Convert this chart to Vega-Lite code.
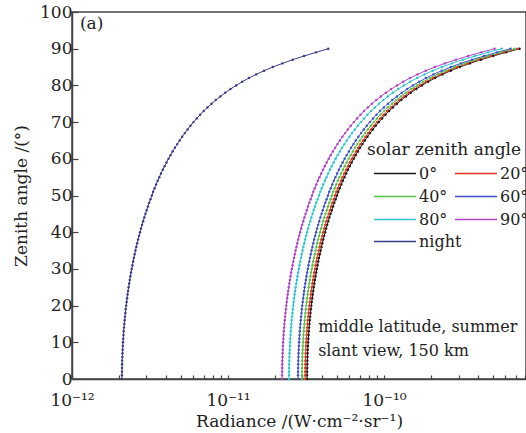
{
  "$schema": "https://vega.github.io/schema/vega-lite/v6.json",
  "width": 454,
  "height": 367,
  "autosize": {"type": "none"},
  "padding": {"left": 72, "top": 12, "right": 0, "bottom": 54},
  "background": "white",
  "config": {
    "font": "DejaVu Serif",
    "view": {"stroke": "#444", "strokeWidth": 1.5},
    "axis": {
      "grid": false,
      "domainColor": "#444",
      "domainWidth": 1.5,
      "tickColor": "#444",
      "tickWidth": 1.2,
      "labelFont": "DejaVu Serif",
      "titleFont": "DejaVu Serif",
      "labelFontSize": 17,
      "titleFontSize": 17,
      "titleFontWeight": "normal",
      "labelColor": "#222",
      "titleColor": "#222",
      "labelOverlap": false,
      "labelFlush": false
    },
    "axisX": {"tickSize": -4, "labelPadding": 17, "titlePadding": 5},
    "axisY": {"tickSize": -6, "labelPadding": 6, "titlePadding": 9},
    "legend": {
      "labelFont": "DejaVu Serif",
      "titleFont": "DejaVu Serif",
      "labelFontSize": 16,
      "titleFontSize": 17,
      "titleFontWeight": "normal",
      "labelColor": "#222",
      "titleColor": "#222",
      "symbolType": "stroke",
      "symbolSize": 1764,
      "symbolStrokeWidth": 1.5,
      "symbolOffset": 6,
      "labelOffset": 2,
      "clipHeight": 23,
      "rowPadding": 0,
      "columnPadding": 0,
      "titlePadding": 3
    }
  },
  "resolve": {"scale": {"color": "independent"}, "legend": {"color": "independent"}},
  "data": {
    "values": [
      {"z":0,"0°":3.210e-11,"20°":3.120e-11,"40°":2.980e-11,"60°":2.810e-11,"80°":2.460e-11,"90°":2.220e-11,"night":2.090e-12},
      {"z":1,"0°":3.210e-11,"20°":3.120e-11,"40°":2.980e-11,"60°":2.810e-11,"80°":2.460e-11,"90°":2.220e-11,"night":2.090e-12},
      {"z":2,"0°":3.212e-11,"20°":3.122e-11,"40°":2.982e-11,"60°":2.812e-11,"80°":2.462e-11,"90°":2.221e-11,"night":2.091e-12},
      {"z":3,"0°":3.214e-11,"20°":3.124e-11,"40°":2.984e-11,"60°":2.814e-11,"80°":2.463e-11,"90°":2.223e-11,"night":2.093e-12},
      {"z":4,"0°":3.218e-11,"20°":3.128e-11,"40°":2.987e-11,"60°":2.817e-11,"80°":2.466e-11,"90°":2.225e-11,"night":2.095e-12},
      {"z":5,"0°":3.222e-11,"20°":3.132e-11,"40°":2.991e-11,"60°":2.821e-11,"80°":2.469e-11,"90°":2.228e-11,"night":2.098e-12},
      {"z":6,"0°":3.228e-11,"20°":3.137e-11,"40°":2.996e-11,"60°":2.825e-11,"80°":2.474e-11,"90°":2.232e-11,"night":2.102e-12},
      {"z":7,"0°":3.234e-11,"20°":3.143e-11,"40°":3.002e-11,"60°":2.831e-11,"80°":2.478e-11,"90°":2.237e-11,"night":2.106e-12},
      {"z":8,"0°":3.242e-11,"20°":3.151e-11,"40°":3.009e-11,"60°":2.838e-11,"80°":2.484e-11,"90°":2.242e-11,"night":2.111e-12},
      {"z":9,"0°":3.250e-11,"20°":3.159e-11,"40°":3.017e-11,"60°":2.845e-11,"80°":2.491e-11,"90°":2.248e-11,"night":2.116e-12},
      {"z":10,"0°":3.260e-11,"20°":3.168e-11,"40°":3.026e-11,"60°":2.853e-11,"80°":2.498e-11,"90°":2.254e-11,"night":2.122e-12},
      {"z":11,"0°":3.270e-11,"20°":3.178e-11,"40°":3.036e-11,"60°":2.863e-11,"80°":2.506e-11,"90°":2.262e-11,"night":2.129e-12},
      {"z":12,"0°":3.282e-11,"20°":3.190e-11,"40°":3.047e-11,"60°":2.873e-11,"80°":2.515e-11,"90°":2.270e-11,"night":2.137e-12},
      {"z":13,"0°":3.294e-11,"20°":3.202e-11,"40°":3.058e-11,"60°":2.884e-11,"80°":2.525e-11,"90°":2.278e-11,"night":2.145e-12},
      {"z":14,"0°":3.308e-11,"20°":3.215e-11,"40°":3.071e-11,"60°":2.896e-11,"80°":2.535e-11,"90°":2.288e-11,"night":2.154e-12},
      {"z":15,"0°":3.323e-11,"20°":3.230e-11,"40°":3.085e-11,"60°":2.909e-11,"80°":2.547e-11,"90°":2.298e-11,"night":2.164e-12},
      {"z":16,"0°":3.339e-11,"20°":3.246e-11,"40°":3.100e-11,"60°":2.923e-11,"80°":2.559e-11,"90°":2.309e-11,"night":2.174e-12},
      {"z":17,"0°":3.357e-11,"20°":3.263e-11,"40°":3.116e-11,"60°":2.938e-11,"80°":2.572e-11,"90°":2.321e-11,"night":2.186e-12},
      {"z":18,"0°":3.375e-11,"20°":3.281e-11,"40°":3.133e-11,"60°":2.955e-11,"80°":2.587e-11,"90°":2.334e-11,"night":2.198e-12},
      {"z":19,"0°":3.395e-11,"20°":3.300e-11,"40°":3.152e-11,"60°":2.972e-11,"80°":2.602e-11,"90°":2.348e-11,"night":2.210e-12},
      {"z":20,"0°":3.416e-11,"20°":3.320e-11,"40°":3.171e-11,"60°":2.990e-11,"80°":2.618e-11,"90°":2.362e-11,"night":2.224e-12},
      {"z":21,"0°":3.438e-11,"20°":3.342e-11,"40°":3.192e-11,"60°":3.010e-11,"80°":2.635e-11,"90°":2.378e-11,"night":2.239e-12},
      {"z":22,"0°":3.462e-11,"20°":3.365e-11,"40°":3.214e-11,"60°":3.031e-11,"80°":2.653e-11,"90°":2.394e-11,"night":2.254e-12},
      {"z":23,"0°":3.487e-11,"20°":3.389e-11,"40°":3.237e-11,"60°":3.053e-11,"80°":2.672e-11,"90°":2.412e-11,"night":2.270e-12},
      {"z":24,"0°":3.514e-11,"20°":3.415e-11,"40°":3.262e-11,"60°":3.076e-11,"80°":2.693e-11,"90°":2.430e-11,"night":2.288e-12},
      {"z":25,"0°":3.542e-11,"20°":3.443e-11,"40°":3.288e-11,"60°":3.100e-11,"80°":2.714e-11,"90°":2.450e-11,"night":2.306e-12},
      {"z":26,"0°":3.571e-11,"20°":3.471e-11,"40°":3.316e-11,"60°":3.126e-11,"80°":2.737e-11,"90°":2.470e-11,"night":2.325e-12},
      {"z":27,"0°":3.603e-11,"20°":3.502e-11,"40°":3.345e-11,"60°":3.154e-11,"80°":2.761e-11,"90°":2.492e-11,"night":2.346e-12},
      {"z":28,"0°":3.636e-11,"20°":3.534e-11,"40°":3.375e-11,"60°":3.183e-11,"80°":2.786e-11,"90°":2.514e-11,"night":2.367e-12},
      {"z":29,"0°":3.670e-11,"20°":3.567e-11,"40°":3.407e-11,"60°":3.213e-11,"80°":2.813e-11,"90°":2.538e-11,"night":2.390e-12},
      {"z":30,"0°":3.707e-11,"20°":3.603e-11,"40°":3.441e-11,"60°":3.245e-11,"80°":2.841e-11,"90°":2.563e-11,"night":2.413e-12},
      {"z":31,"0°":3.745e-11,"20°":3.640e-11,"40°":3.477e-11,"60°":3.278e-11,"80°":2.870e-11,"90°":2.590e-11,"night":2.438e-12},
      {"z":32,"0°":3.785e-11,"20°":3.679e-11,"40°":3.514e-11,"60°":3.314e-11,"80°":2.901e-11,"90°":2.618e-11,"night":2.464e-12},
      {"z":33,"0°":3.827e-11,"20°":3.720e-11,"40°":3.553e-11,"60°":3.351e-11,"80°":2.933e-11,"90°":2.647e-11,"night":2.492e-12},
      {"z":34,"0°":3.872e-11,"20°":3.763e-11,"40°":3.595e-11,"60°":3.389e-11,"80°":2.967e-11,"90°":2.678e-11,"night":2.521e-12},
      {"z":35,"0°":3.919e-11,"20°":3.809e-11,"40°":3.638e-11,"60°":3.430e-11,"80°":3.003e-11,"90°":2.710e-11,"night":2.551e-12},
      {"z":36,"0°":3.968e-11,"20°":3.857e-11,"40°":3.683e-11,"60°":3.473e-11,"80°":3.041e-11,"90°":2.744e-11,"night":2.583e-12},
      {"z":37,"0°":4.019e-11,"20°":3.907e-11,"40°":3.731e-11,"60°":3.519e-11,"80°":3.080e-11,"90°":2.780e-11,"night":2.617e-12},
      {"z":38,"0°":4.074e-11,"20°":3.959e-11,"40°":3.782e-11,"60°":3.566e-11,"80°":3.122e-11,"90°":2.817e-11,"night":2.652e-12},
      {"z":39,"0°":4.130e-11,"20°":4.015e-11,"40°":3.835e-11,"60°":3.616e-11,"80°":3.165e-11,"90°":2.857e-11,"night":2.689e-12},
      {"z":40,"0°":4.190e-11,"20°":4.073e-11,"40°":3.890e-11,"60°":3.668e-11,"80°":3.211e-11,"90°":2.898e-11,"night":2.728e-12},
      {"z":41,"0°":4.253e-11,"20°":4.134e-11,"40°":3.948e-11,"60°":3.723e-11,"80°":3.260e-11,"90°":2.942e-11,"night":2.769e-12},
      {"z":42,"0°":4.319e-11,"20°":4.198e-11,"40°":4.010e-11,"60°":3.781e-11,"80°":3.310e-11,"90°":2.987e-11,"night":2.812e-12},
      {"z":43,"0°":4.389e-11,"20°":4.266e-11,"40°":4.075e-11,"60°":3.842e-11,"80°":3.364e-11,"90°":3.035e-11,"night":2.858e-12},
      {"z":44,"0°":4.462e-11,"20°":4.337e-11,"40°":4.143e-11,"60°":3.906e-11,"80°":3.420e-11,"90°":3.086e-11,"night":2.905e-12},
      {"z":45,"0°":4.540e-11,"20°":4.412e-11,"40°":4.214e-11,"60°":3.974e-11,"80°":3.479e-11,"90°":3.140e-11,"night":2.956e-12},
      {"z":46,"0°":4.621e-11,"20°":4.491e-11,"40°":4.290e-11,"60°":4.045e-11,"80°":3.541e-11,"90°":3.196e-11,"night":3.009e-12},
      {"z":47,"0°":4.707e-11,"20°":4.575e-11,"40°":4.370e-11,"60°":4.120e-11,"80°":3.607e-11,"90°":3.255e-11,"night":3.065e-12},
      {"z":48,"0°":4.797e-11,"20°":4.663e-11,"40°":4.454e-11,"60°":4.199e-11,"80°":3.676e-11,"90°":3.318e-11,"night":3.123e-12},
      {"z":49,"0°":4.893e-11,"20°":4.756e-11,"40°":4.542e-11,"60°":4.283e-11,"80°":3.750e-11,"90°":3.384e-11,"night":3.186e-12},
      {"z":50,"0°":4.994e-11,"20°":4.854e-11,"40°":4.636e-11,"60°":4.372e-11,"80°":3.827e-11,"90°":3.454e-11,"night":3.251e-12},
      {"z":51,"0°":5.086e-11,"20°":4.944e-11,"40°":4.722e-11,"60°":4.452e-11,"80°":3.898e-11,"90°":3.518e-11,"night":3.310e-12},
      {"z":52,"0°":5.198e-11,"20°":5.052e-11,"40°":4.826e-11,"60°":4.550e-11,"80°":3.983e-11,"90°":3.595e-11,"night":3.382e-12},
      {"z":53,"0°":5.316e-11,"20°":5.167e-11,"40°":4.935e-11,"60°":4.654e-11,"80°":4.074e-11,"90°":3.677e-11,"night":3.459e-12},
      {"z":54,"0°":5.442e-11,"20°":5.289e-11,"40°":5.052e-11,"60°":4.764e-11,"80°":4.170e-11,"90°":3.763e-11,"night":3.541e-12},
      {"z":55,"0°":5.575e-11,"20°":5.419e-11,"40°":5.176e-11,"60°":4.880e-11,"80°":4.273e-11,"90°":3.856e-11,"night":3.627e-12},
      {"z":56,"0°":5.717e-11,"20°":5.556e-11,"40°":5.307e-11,"60°":5.004e-11,"80°":4.381e-11,"90°":3.954e-11,"night":3.719e-12},
      {"z":57,"0°":5.868e-11,"20°":5.703e-11,"40°":5.447e-11,"60°":5.136e-11,"80°":4.497e-11,"90°":4.058e-11,"night":3.817e-12},
      {"z":58,"0°":6.028e-11,"20°":5.859e-11,"40°":5.596e-11,"60°":5.277e-11,"80°":4.620e-11,"90°":4.169e-11,"night":3.921e-12},
      {"z":59,"0°":6.200e-11,"20°":6.027e-11,"40°":5.756e-11,"60°":5.428e-11,"80°":4.752e-11,"90°":4.288e-11,"night":4.033e-12},
      {"z":60,"0°":6.384e-11,"20°":6.205e-11,"40°":5.927e-11,"60°":5.589e-11,"80°":4.892e-11,"90°":4.415e-11,"night":4.152e-12},
      {"z":61,"0°":6.581e-11,"20°":6.397e-11,"40°":6.110e-11,"60°":5.761e-11,"80°":5.043e-11,"90°":4.551e-11,"night":4.280e-12},
      {"z":62,"0°":6.792e-11,"20°":6.602e-11,"40°":6.306e-11,"60°":5.946e-11,"80°":5.205e-11,"90°":4.698e-11,"night":4.417e-12},
      {"z":63,"0°":7.020e-11,"20°":6.823e-11,"40°":6.517e-11,"60°":6.145e-11,"80°":5.380e-11,"90°":4.855e-11,"night":4.564e-12},
      {"z":64,"0°":7.266e-11,"20°":7.062e-11,"40°":6.745e-11,"60°":6.360e-11,"80°":5.568e-11,"90°":5.025e-11,"night":4.723e-12},
      {"z":65,"0°":7.531e-11,"20°":7.320e-11,"40°":6.991e-11,"60°":6.592e-11,"80°":5.771e-11,"90°":5.208e-11,"night":4.895e-12},
      {"z":66,"0°":7.818e-11,"20°":7.599e-11,"40°":7.258e-11,"60°":6.844e-11,"80°":5.992e-11,"90°":5.407e-11,"night":5.081e-12},
      {"z":67,"0°":8.131e-11,"20°":7.903e-11,"40°":7.549e-11,"60°":7.118e-11,"80°":6.231e-11,"90°":5.623e-11,"night":5.283e-12},
      {"z":68,"0°":8.472e-11,"20°":8.235e-11,"40°":7.865e-11,"60°":7.416e-11,"80°":6.493e-11,"90°":5.859e-11,"night":5.504e-12},
      {"z":69,"0°":8.845e-11,"20°":8.597e-11,"40°":8.211e-11,"60°":7.743e-11,"80°":6.779e-11,"90°":6.117e-11,"night":5.745e-12},
      {"z":70,"0°":9.255e-11,"20°":8.996e-11,"40°":8.592e-11,"60°":8.102e-11,"80°":7.093e-11,"90°":6.401e-11,"night":6.010e-12},
      {"z":71,"0°":9.708e-11,"20°":9.436e-11,"40°":9.012e-11,"60°":8.498e-11,"80°":7.440e-11,"90°":6.714e-11,"night":6.302e-12},
      {"z":72,"0°":10.21e-11,"20°":9.922e-11,"40°":9.477e-11,"60°":8.936e-11,"80°":7.823e-11,"90°":7.060e-11,"night":6.624e-12},
      {"z":73,"0°":10.77e-11,"20°":10.46e-11,"40°":9.995e-11,"60°":9.424e-11,"80°":8.251e-11,"90°":7.446e-11,"night":6.983e-12},
      {"z":74,"0°":11.39e-11,"20°":11.07e-11,"40°":10.57e-11,"60°":9.971e-11,"80°":8.729e-11,"90°":7.877e-11,"night":7.384e-12},
      {"z":75,"0°":12.09e-11,"20°":11.75e-11,"40°":11.23e-11,"60°":10.59e-11,"80°":9.267e-11,"90°":8.363e-11,"night":7.836e-12},
      {"z":76,"0°":12.89e-11,"20°":12.53e-11,"40°":11.97e-11,"60°":11.28e-11,"80°":9.877e-11,"90°":8.914e-11,"night":8.346e-12},
      {"z":77,"0°":13.80e-11,"20°":13.41e-11,"40°":12.81e-11,"60°":12.08e-11,"80°":10.57e-11,"90°":9.542e-11,"night":8.927e-12},
      {"z":78,"0°":14.84e-11,"20°":14.43e-11,"40°":13.78e-11,"60°":12.99e-11,"80°":11.38e-11,"90°":10.27e-11,"night":9.594e-12},
      {"z":79,"0°":16.06e-11,"20°":15.61e-11,"40°":14.91e-11,"60°":14.06e-11,"80°":12.31e-11,"90°":11.11e-11,"night":10.37e-12},
      {"z":80,"0°":17.48e-11,"20°":16.99e-11,"40°":16.23e-11,"60°":15.30e-11,"80°":13.40e-11,"90°":12.09e-11,"night":11.27e-12},
      {"z":81,"0°":19.17e-11,"20°":18.64e-11,"40°":17.80e-11,"60°":16.78e-11,"80°":14.69e-11,"90°":13.26e-11,"night":12.33e-12},
      {"z":82,"0°":21.20e-11,"20°":20.61e-11,"40°":19.68e-11,"60°":18.56e-11,"80°":16.25e-11,"90°":14.66e-11,"night":13.61e-12},
      {"z":83,"0°":23.68e-11,"20°":23.01e-11,"40°":21.98e-11,"60°":20.72e-11,"80°":18.14e-11,"90°":16.37e-11,"night":15.14e-12},
      {"z":84,"0°":26.73e-11,"20°":25.98e-11,"40°":24.82e-11,"60°":23.40e-11,"80°":20.49e-11,"90°":18.49e-11,"night":17.02e-12},
      {"z":85,"0°":30.57e-11,"20°":29.71e-11,"40°":28.38e-11,"60°":26.76e-11,"80°":23.43e-11,"90°":21.14e-11,"night":19.36e-12},
      {"z":86,"0°":35.46e-11,"20°":34.47e-11,"40°":32.92e-11,"60°":31.04e-11,"80°":27.18e-11,"90°":24.53e-11,"night":22.29e-12},
      {"z":87,"0°":41.77e-11,"20°":40.60e-11,"40°":38.78e-11,"60°":36.57e-11,"80°":32.01e-11,"90°":28.89e-11,"night":25.99e-12},
      {"z":88,"0°":49.96e-11,"20°":48.56e-11,"40°":46.38e-11,"60°":43.73e-11,"80°":38.28e-11,"90°":34.55e-11,"night":30.68e-12},
      {"z":89,"0°":60.51e-11,"20°":58.81e-11,"40°":56.17e-11,"60°":52.97e-11,"80°":46.37e-11,"90°":41.85e-11,"night":36.59e-12},
      {"z":90,"0°":73.83e-11,"20°":71.76e-11,"40°":68.54e-11,"60°":64.63e-11,"80°":56.58e-11,"90°":51.06e-11,"night":43.89e-12}
    ]
  },
  "layer": [
    {
      "transform": [
        {"fold": ["night"], "as": ["series", "radiance"]}
      ],
      "mark": {"type": "line", "strokeWidth": 1, "point": {"filled": true, "size": 6}},
      "encoding": {
        "x": {
          "field": "radiance",
          "type": "quantitative",
          "scale": {"type": "log", "domain": [1e-12, 8.12e-10], "nice": false},
          "axis": {
            "title": "Radiance /(W·cm⁻²·sr⁻¹)",
            "values": [1e-12, 2e-12, 3e-12, 4e-12, 5e-12, 6e-12, 7e-12, 8e-12, 9e-12, 1e-11, 2e-11, 3e-11, 4e-11, 5e-11, 6e-11, 7e-11, 8e-11, 9e-11, 1e-10, 2e-10, 3e-10, 4e-10, 5e-10, 6e-10, 7e-10, 8e-10],
            "labelExpr": "abs(log(datum.value)/LN10 - round(log(datum.value)/LN10)) > 0.01 ? '' : (round(log(datum.value)/LN10) == -12 ? '10⁻¹²' : (round(log(datum.value)/LN10) == -11 ? '10⁻¹¹' : '10⁻¹⁰'))"
          }
        },
        "y": {
          "field": "z",
          "type": "quantitative",
          "scale": {"domain": [0, 100], "nice": false},
          "axis": {
            "title": "Zenith angle /(°)",
            "values": [0, 10, 20, 30, 40, 50, 60, 70, 80, 90, 100]
          }
        },
        "color": {
          "field": "series",
          "type": "nominal",
          "scale": {"domain": ["night"], "range": ["#3b3b8a"]},
          "legend": {
            "title": null,
            "orient": "none",
            "legendX": 295,
            "legendY": 218
          }
        }
      }
    },
    {
      "transform": [
        {"fold": ["0°", "20°", "40°", "60°", "80°", "90°"], "as": ["series", "radiance"]}
      ],
      "mark": {"type": "line", "strokeWidth": 1, "point": {"filled": true, "size": 6}},
      "encoding": {
        "x": {
          "field": "radiance",
          "type": "quantitative",
          "scale": {"type": "log", "domain": [1e-12, 8.12e-10], "nice": false},
          "axis": {
            "title": "Radiance /(W·cm⁻²·sr⁻¹)",
            "values": [1e-12, 2e-12, 3e-12, 4e-12, 5e-12, 6e-12, 7e-12, 8e-12, 9e-12, 1e-11, 2e-11, 3e-11, 4e-11, 5e-11, 6e-11, 7e-11, 8e-11, 9e-11, 1e-10, 2e-10, 3e-10, 4e-10, 5e-10, 6e-10, 7e-10, 8e-10],
            "labelExpr": "abs(log(datum.value)/LN10 - round(log(datum.value)/LN10)) > 0.01 ? '' : (round(log(datum.value)/LN10) == -12 ? '10⁻¹²' : (round(log(datum.value)/LN10) == -11 ? '10⁻¹¹' : '10⁻¹⁰'))"
          }
        },
        "y": {
          "field": "z",
          "type": "quantitative",
          "scale": {"domain": [0, 100], "nice": false},
          "axis": {
            "title": "Zenith angle /(°)",
            "values": [0, 10, 20, 30, 40, 50, 60, 70, 80, 90, 100]
          }
        },
        "color": {
          "field": "series",
          "type": "nominal",
          "scale": {
            "domain": ["0°", "40°", "80°", "20°", "60°", "90°"],
            "range": ["#1a1a1a", "#52c443", "#2cc6cf", "#e8301e", "#4050c8", "#b043c6"]
          },
          "legend": {
            "title": "solar zenith angle",
            "orient": "none",
            "legendX": 295,
            "legendY": 130,
            "columns": 2
          }
        }
      }
    },
    {
      "data": {"values": [{"label": "(a)"}]},
      "mark": {"type": "text", "align": "left", "baseline": "middle", "fontSize": 17, "color": "#222"},
      "encoding": {
        "x": {
          "datum": 1.125e-12,
          "type": "quantitative",
          "axis": {
            "title": "Radiance /(W·cm⁻²·sr⁻¹)",
            "values": [1e-12, 2e-12, 3e-12, 4e-12, 5e-12, 6e-12, 7e-12, 8e-12, 9e-12, 1e-11, 2e-11, 3e-11, 4e-11, 5e-11, 6e-11, 7e-11, 8e-11, 9e-11, 1e-10, 2e-10, 3e-10, 4e-10, 5e-10, 6e-10, 7e-10, 8e-10],
            "labelExpr": "abs(log(datum.value)/LN10 - round(log(datum.value)/LN10)) > 0.01 ? '' : (round(log(datum.value)/LN10) == -12 ? '10⁻¹²' : (round(log(datum.value)/LN10) == -11 ? '10⁻¹¹' : '10⁻¹⁰'))"
          }
        },
        "y": {
          "datum": 96.6,
          "type": "quantitative",
          "axis": {
            "title": "Zenith angle /(°)",
            "values": [0, 10, 20, 30, 40, 50, 60, 70, 80, 90, 100]
          }
        },
        "text": {"field": "label"}
      }
    },
    {
      "data": {"values": [{"label": "middle latitude, summer", "y": 14.2}, {"label": "slant view, 150 km", "y": 7.6}]},
      "mark": {"type": "text", "align": "left", "baseline": "middle", "fontSize": 16, "color": "#222"},
      "encoding": {
        "x": {
          "datum": 3.78e-11,
          "type": "quantitative",
          "axis": {
            "title": "Radiance /(W·cm⁻²·sr⁻¹)",
            "values": [1e-12, 2e-12, 3e-12, 4e-12, 5e-12, 6e-12, 7e-12, 8e-12, 9e-12, 1e-11, 2e-11, 3e-11, 4e-11, 5e-11, 6e-11, 7e-11, 8e-11, 9e-11, 1e-10, 2e-10, 3e-10, 4e-10, 5e-10, 6e-10, 7e-10, 8e-10],
            "labelExpr": "abs(log(datum.value)/LN10 - round(log(datum.value)/LN10)) > 0.01 ? '' : (round(log(datum.value)/LN10) == -12 ? '10⁻¹²' : (round(log(datum.value)/LN10) == -11 ? '10⁻¹¹' : '10⁻¹⁰'))"
          }
        },
        "y": {
          "field": "y",
          "type": "quantitative",
          "axis": {
            "title": "Zenith angle /(°)",
            "values": [0, 10, 20, 30, 40, 50, 60, 70, 80, 90, 100]
          }
        },
        "text": {"field": "label"}
      }
    }
  ]
}
